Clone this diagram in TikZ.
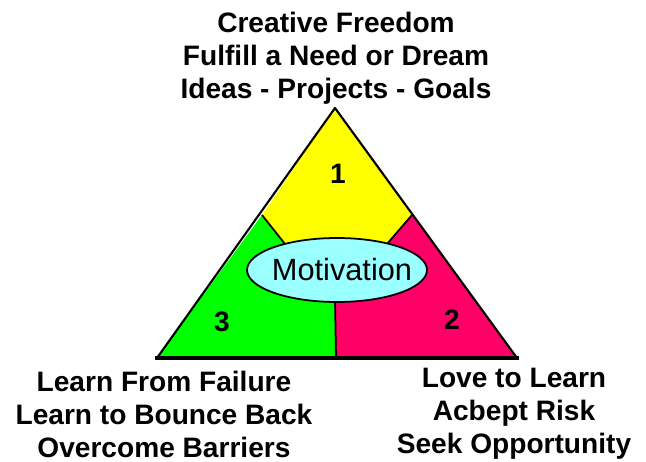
\documentclass[tikz,border=0pt]{standalone}
\usepackage{fontspec}
\setmainfont{Liberation Sans}
\definecolor{topyellow}{RGB}{255,255,0}
\definecolor{leftgreen}{RGB}{0,255,0}
\definecolor{rightpink}{RGB}{255,0,102}
\definecolor{midcyan}{RGB}{153,255,255}
\tikzset{
  caption/.style={align=center,font=\fontsize{16}{18.8}\selectfont\bfseries},
  numlabel/.style={font=\fontsize{16}{18}\selectfont\bfseries},
}
\begin{document}
\begin{tikzpicture}[x=0.02cm,y=-0.02cm]
        \useasboundingbox (0,0) rectangle (646,462);
        \coordinate (apex) at (335,108);
        \coordinate (bl) at (157,358);
        \coordinate (br) at (517,358);
        \coordinate (ls) at (262,215);
        \coordinate (rs) at (412,215);
        \coordinate (li) at (285,244);
        \coordinate (ri) at (387,244);
        \coordinate (bi) at (335,300);
        \coordinate (bb) at (336,358);
        \fill[topyellow](apex)--(ls)--(li)--(ri)--(rs)--cycle;
        \fill[leftgreen](bl)--(ls)--(li)--(bi)--(bb)--cycle;
        \fill[rightpink](br)--(rs)--(ri)--(bi)--(bb)--cycle;
        \draw[line width=1pt](ls)--(li);
        \draw[line width=1pt](rs)--(ri);
        \draw[line width=1pt](bi)--(bb);
        \filldraw[line width=1pt,fill=midcyan](337,270) ellipse [x radius=1.8cm,y radius=0.64cm];
        \node[font=\fontsize{17.5}{20}\selectfont](motivation)at(342,270){Motivation};
        \draw[line width=1.2pt,line join=round](bl)--(apex)--(br);
        \draw[line width=2pt](155,358)--(519,358);
        \node[numlabel](n1)at(338,174){1};
        \node[numlabel](n2)at(452,320){2};
        \node[numlabel](n3)at(222,322){3};
        \node[caption](top)at(336,58){Creative Freedom\\Fulfill a Need or Dream\\Ideas - Projects - Goals};
        \node[caption](left)at(164,414){Learn From Failure\\Learn to Bounce Back\\Overcome Barriers};
        \node[caption](right)at(514,414){Love to Learn\\Acbept Risk\\Seek Opportunity};
    \end{tikzpicture}
\end{document}
